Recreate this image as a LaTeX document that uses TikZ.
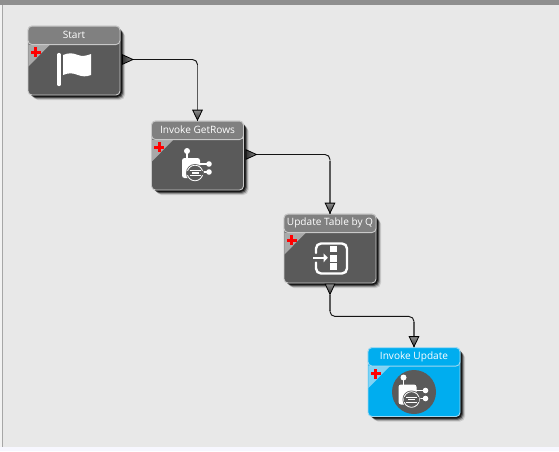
\documentclass[tikz,border=0pt]{standalone}
\usepackage{fontspec}
\setmainfont{Open Sans}
\usetikzlibrary{calc}
\definecolor{bgc}{HTML}{E8E8E8}
\definecolor{topc}{HTML}{8F8F8F}
\definecolor{bodyc}{HTML}{5A5A5A}
\definecolor{headc}{HTML}{808080}
\definecolor{cornc}{HTML}{A9A9A9}
\definecolor{edgec}{HTML}{C9C9C9}
\definecolor{bluec}{HTML}{00ADEF}
\definecolor{bluecorn}{HTML}{7FD3F5}
\definecolor{blueedge}{HTML}{9FD8F0}
\tikzset{
  blockbox/.style={draw=#1,line width=0.9pt,rounded corners=4pt,minimum width=92pt,minimum height=69pt,inner sep=0pt},
  headbox/.style={draw=#1,line width=0.9pt,rounded corners=4pt,minimum width=92pt,minimum height=18.5pt,inner sep=0pt,text=white,font=\fontsize{10.1}{11}\selectfont},
  wire/.style={draw=black!92,line width=0.95pt,rounded corners=5pt},
  wirev/.style={draw=black!65,line width=1.5pt},
  tipfill/.style={draw=black,line width=0.8pt,top color=black!45,bottom color=black!80},
  porttip/.style={draw=black,line width=0.8pt,left color=black!80,right color=black!45}
}
% name, cx, cy, text, body, head, corner, edge
\newcommand{\flowblock}[8]{
  \begin{scope}[shift={(#2,#3)}]
    \foreach \o/\a in {5/12,4/25,3/45,2/70}
      \fill[black,opacity=0.\a,rounded corners=5pt] (-46+\o,-34.5+\o) rectangle (46+\o,34.5+\o);
    \node[blockbox=#8,fill=#5] (#1) at (0,0) {};
    \fill[#7] (-45.6,-16) -- (-24,-16) -- (-45.6,6) -- cycle;
    \node[headbox=#8,fill=#6] (#1-head) at (0,-25.2) {\raisebox{0.3pt}{#4}};
    \fill[red] (-40,-13.5) rectangle (-37,-3.5);
    \fill[red] (-43.5,-10) rectangle (-33.5,-7);
  \end{scope}
}
% agent icon relative to node centre
\newcommand{\agenticon}[3]{
  \begin{scope}[shift={(#1,#2)}]
    \draw[white,line width=1.2pt] (-10.5,-4) -- (-10.5,3);
    \fill[white] (-10.5,-4.5) circle (3pt);
    \draw[white,line width=1.1pt] (2,8.5) -- (11,8.5) (2,16.5) -- (11,16.5);
    \fill[white] (11.5,8.5) circle (2.8pt) (11.5,16.5) circle (2.8pt);
    \fill[white,rounded corners=2.5pt] (-15.5,2.5) rectangle (2.5,22.5);
    \fill[#3] (-2.5,17.5) circle (9pt);
    \draw[white,line width=0.8pt] (-2.5,17.5) circle (7.8pt);
    \fill[#3] (-10.2,15.2) rectangle (5.2,19.8);
    \draw[white,line width=0.8pt] (-8,15) -- (3,15) (-8,20) -- (3,20);
    \fill[white] (-6,16.6) rectangle (1,18.4);
  \end{scope}
}
\newcommand{\downtip}[1]{
  \path[tipfill] ($(#1)+(-4.8,-10.5)$) -- ($(#1)+(4.8,-10.5)$) -- ($(#1)+(0,-0.5)$) -- cycle;
}
\newcommand{\righttip}[1]{
  \path[porttip] ($(#1)+(-10.5,-4.8)$) -- ($(#1)+(-10.5,4.8)$) -- ($(#1)+(0,0)$) -- cycle;
}
\begin{document}
\begin{tikzpicture}[x=1pt,y=-1pt]
\useasboundingbox (0,0) rectangle (559,451);
\fill[bgc] (0,0) rectangle (559,451);
\fill[topc] (0,0) rectangle (559,4.5);
\fill[white!90!gray] (0,4.5) rectangle (2,451);
\fill[gray!70] (2,4.5) rectangle (3,451);
\fill[blue!3!white] (0,447) rectangle (559,451);

\flowblock{start}{74}{60.5}{Start}{bodyc}{headc}{cornc}{edgec}
\flowblock{getrows}{197.5}{155.5}{Invoke GetRows}{bodyc}{headc}{cornc}{edgec}
\flowblock{update}{330}{248.5}{Update Table by Q}{bodyc}{headc}{cornc}{edgec}
\flowblock{invoke}{414}{382}{Invoke Update}{bluec}{bluec}{bluecorn}{blueedge}

% flag icon
\begin{scope}[shift={(start.center)}]
  \draw[white,line width=3.2pt,line cap=round] (-15,-6) -- (-15,24);
  \fill[white] (-11,-5.5) .. controls (-5,-8) and (-1,-7.5) .. (4,-5.5)
     .. controls (8,-4) and (12,-4.5) .. (17,-6.5)
     -- (17,14.5) .. controls (12,16.5) and (8,16) .. (4,14.5)
     .. controls (-1,12.5) and (-5,12) .. (-11,14.5) -- cycle;
\end{scope}

\agenticon{197.5}{155.5}{bodyc}
\fill[bodyc] (414,392) circle (22pt);
\agenticon{414}{382}{bodyc}

% update-table icon
\begin{scope}[shift={(update.center)}]
  \draw[white,line width=2.4pt,rounded corners=5pt,line cap=round] (-14,4.5) -- (-14,-5) -- (17,-5) -- (17,25) -- (-14,25) -- (-14,14);
  \fill[white] (0,-2.5) rectangle (7,3.8);
  \fill[white] (0,6.5) rectangle (7,13.2);
  \fill[white] (0,14.8) rectangle (7,21.5);
  \draw[white,line width=2.2pt] (-17,9.3) -- (-5,9.3);
  \fill[white] (-6.5,4.8) -- (-2.2,9.3) -- (-6.5,13.8) -- cycle;
\end{scope}

% connectors
\coordinate (p1) at ($(start.east)+(12.5,-1)$);
\coordinate (p2) at ($(getrows.east)+(12.5,-1)$);
\coordinate (p3) at ($(update.south)+(0,11.5)$);
\coordinate (c1) at ($(p1 -| getrows-head.north)+(0,6)$);
\coordinate (c2) at ($(p2 -| update-head.north)+(0,6)$);
\coordinate (c3) at ($(p3)+(0,21.5)$);
\coordinate (c4) at ($(c3 -| invoke-head.north)+(0,6)$);
\draw[wirev] (c1) -- (getrows-head.north);
\draw[wirev] (c2) -- (update-head.north);
\draw[wirev] (p3) -- ($(c3)+(0,-5)$);
\draw[wirev] (c4) -- (invoke-head.north);
\draw[wire] (p1) -| (c1);
\draw[wire] (p2) -| (c2);
\draw[wire] ($(c3)+(0,-6)$) |- ($(c3)+(12,0)$) -| (c4);
\downtip{getrows-head.north}
\downtip{update-head.north}
\downtip{invoke-head.north}
\righttip{p1}
\righttip{p2}
\path[tipfill] ($(update.south)+(-4.8,0.5)$) -- ($(update.south)+(4.8,0.5)$) -- ($(update.south)+(0,11)$) -- cycle;
\end{tikzpicture}
\end{document}
